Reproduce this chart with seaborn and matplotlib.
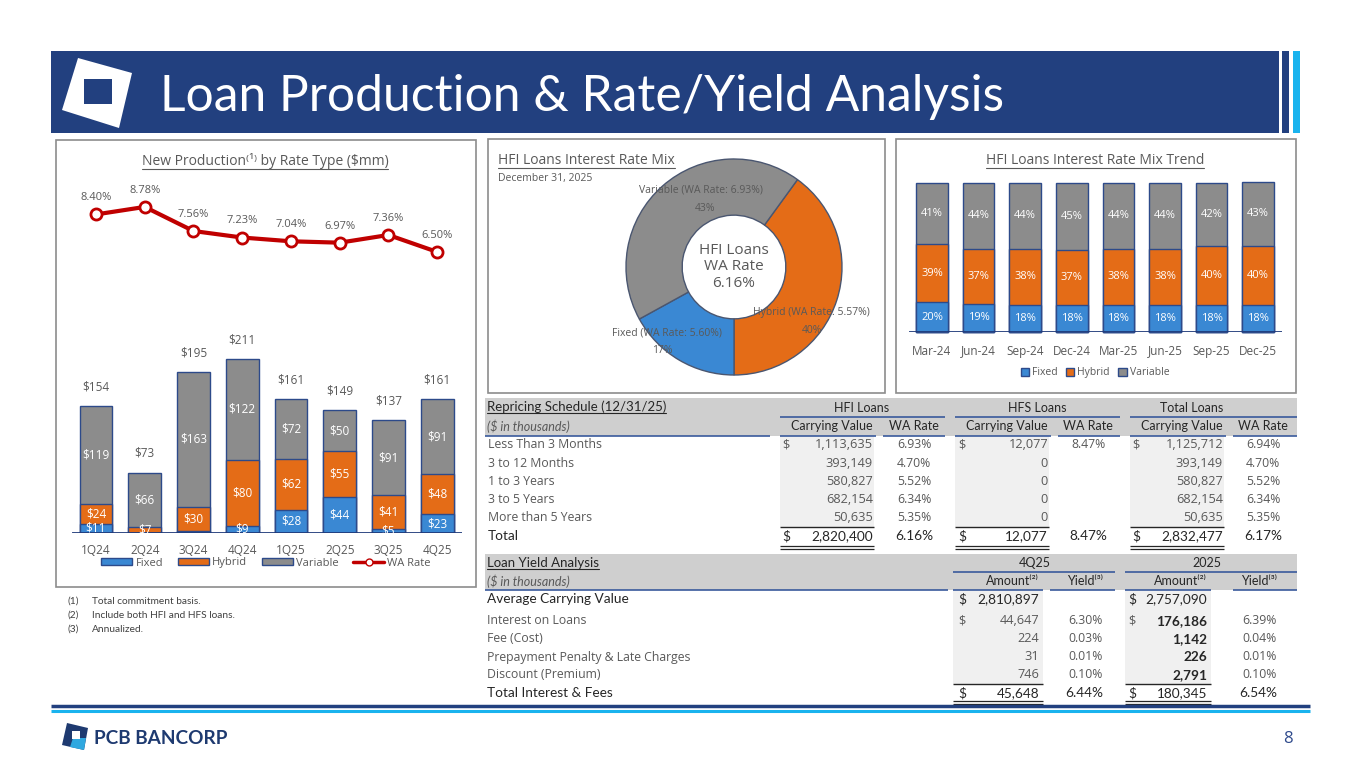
import matplotlib
matplotlib.use("Agg")
import matplotlib.pyplot as plt
import matplotlib.patches as mpatches
from matplotlib.lines import Line2D
import pandas as pd
import seaborn as sns

sns.set_theme(style="white")
plt.rcParams["font.family"] = ["Open Sans", "DejaVu Sans"]
plt.rcParams["text.parse_math"] = False

W, H = 1365, 768
NAVY = "#22407F"
SKY = "#1AB3EE"
BLUE = "#3A88D3"
ORANGE = "#E46C17"
GRAY = "#8C8C8C"
EDGE = "#2D4A8A"
RED = "#C00000"
TXT = "#595959"
DARK = "#262626"
HDR_BG = "#CFCFCF"
CELL_BG = "#F0F0F0"
LINE_BLUE = "#3A5A9C"
SEGOE = ["Open Sans", "DejaVu Sans"]
CALIBRI = ["Lato", "DejaVu Sans"]
BODY = 8.8
NUM = 9.2

# ---- data ----
quarters = ["1Q24", "2Q24", "3Q24", "4Q24", "1Q25", "2Q25", "3Q25", "4Q25"]
prod_fixed = [11, 0, 2, 9, 28, 44, 5, 23]
prod_hybrid = [24, 7, 30, 80, 62, 55, 41, 48]
prod_variable = [119, 66, 163, 122, 72, 50, 91, 91]
prod_total = [154, 73, 195, 211, 161, 149, 137, 161]
wa_rate = [8.40, 8.78, 7.56, 7.23, 7.04, 6.97, 7.36, 6.50]

mix_types = ["Hybrid", "Fixed", "Variable"]
mix_share = [40, 17, 43]
mix_rate = [5.57, 5.60, 6.93]
hfi_wa_rate = 6.16

trend_months = ["Mar-24", "Jun-24", "Sep-24", "Dec-24", "Mar-25", "Jun-25", "Sep-25", "Dec-25"]
trend_fixed = [20, 19, 18, 18, 18, 18, 18, 18]
trend_hybrid = [39, 37, 38, 37, 38, 38, 40, 40]
trend_variable = [41, 44, 44, 45, 44, 44, 42, 43]

rep_buckets = ["Less Than 3 Months", "3 to 12 Months", "1 to 3 Years", "3 to 5 Years", "More than 5 Years"]
hfi_value = [1113635, 393149, 580827, 682154, 50635]
hfi_rate = [6.93, 4.70, 5.52, 6.34, 5.35]
hfs_value = [12077, 0, 0, 0, 0]
hfs_rate = [8.47, None, None, None, None]
tot_value = [1125712, 393149, 580827, 682154, 50635]
tot_rate = [6.94, 4.70, 5.52, 6.34, 5.35]
rep_groups = ["HFI Loans", "HFS Loans", "Total Loans"]
rep_total_value = [2820400, 12077, 2832477]
rep_total_rate = [6.16, 8.47, 6.17]

yield_items = ["Interest on Loans", "Fee (Cost)", "Prepayment Penalty & Late Charges", "Discount (Premium)"]
yield_periods = ["4Q25", "2025"]
q4_amount = [44647, 224, 31, 746]
q4_yield = [6.30, 0.03, 0.01, 0.10]
fy_amount = [176186, 1142, 226, 2791]
fy_yield = [6.39, 0.04, 0.01, 0.10]
avg_carrying = [2810897, 2757090]
yield_total_amount = [45648, 180345]
yield_total_yield = [6.44, 6.54]

footnotes = ["Total commitment basis.", "Include both HFI and HFS loans.", "Annualized."]


def rect(x0, y0, x1, y1):
    return [x0 / W, 1 - y1 / H, (x1 - x0) / W, (y1 - y0) / H]


fig = plt.figure(figsize=(W / 100, H / 100), dpi=100)
fig.patch.set_facecolor("white")
cv = fig.add_axes([0, 0, 1, 1])
cv.set_xlim(0, W)
cv.set_ylim(H, 0)
cv.axis("off")
underlined = []


def box(x0, y0, x1, y1, fc="none", ec="none", lw=1.0, z=1):
    cv.add_patch(mpatches.Rectangle((x0, y0), x1 - x0, y1 - y0, facecolor=fc,
                                    edgecolor=ec, linewidth=lw, zorder=z))


def hline(x0, x1, y, color=DARK, lw=0.9):
    cv.plot([x0, x1], [y, y], color=color, lw=lw, solid_capstyle="butt", zorder=3)


def txt(x, y, s, size=8.5, color=TXT, ha="left", family=SEGOE, **kw):
    return cv.text(x, y, s, fontsize=size, color=color, ha=ha, va="center",
                   family=family, zorder=4, **kw)


# ---- header band ----
box(51, 51, 1279, 133, fc=NAVY)
box(1282, 51, 1289, 133, fc=NAVY)
box(1293, 51, 1300, 133, fc=SKY)
cv.add_patch(mpatches.Polygon([(78, 58), (132, 73), (119, 128), (62, 110)], closed=True,
                              facecolor="white", edgecolor="none", zorder=2))
box(84, 79, 112, 104, fc=NAVY, z=3)
title = txt(160, 97, "Loan Production & Rate/Yield Analysis", 36, "white", family=CALIBRI)

# ---- panels ----
box(56, 140, 476, 587, ec="#8C8C8C", lw=1.2)
box(488, 139, 885, 393, ec="#8C8C8C", lw=1.2)
box(896, 139, 1296, 393, ec="#8C8C8C", lw=1.2)

# ---- left chart: new production ----
underlined.append(txt(265, 161, "New Production⁽¹⁾ by Rate Type ($mm)", 10, TXT, ha="center"))
prod = pd.DataFrame({"quarter": quarters, "fixed": prod_fixed, "hybrid": prod_hybrid,
                     "variable": prod_variable})
prod["fh"] = prod["fixed"] + prod["hybrid"]
prod["fhv"] = prod["fh"] + prod["variable"]

axb = fig.add_axes(rect(71.6, 340, 461.6, 533))
for col, c in [("fhv", GRAY), ("fh", ORANGE), ("fixed", BLUE)]:
    sns.barplot(data=prod, x="quarter", y=col, order=quarters, color=c, saturation=1,
                width=0.67, edgecolor=EDGE, linewidth=1, errorbar=None, ax=axb)
for i, row in prod.iterrows():
    if row["fixed"] >= 3:
        axb.text(i, row["fixed"] / 2, f"${row['fixed']}", ha="center", va="center",
                 color="white", fontsize=8.5)
    axb.text(i, row["fixed"] + row["hybrid"] / 2, f"${row['hybrid']}", ha="center",
             va="center", color="white", fontsize=8.5)
    axb.text(i, row["fh"] + row["variable"] / 2, f"${row['variable']}", ha="center",
             va="center", color="white", fontsize=8.5)
    axb.annotate(f"${prod_total[i]}", (i, row["fhv"]), xytext=(0, 14), textcoords="offset points",
                 ha="center", va="center", color=TXT, fontsize=8.5)
axb.axhline(0, color="#1F3A7A", lw=2)
axb.set_xlim(-0.5, 7.5)
axb.set_ylim(0, 234)
axb.set_xlabel("")
axb.set_ylabel("")
axb.set_yticks([])
axb.tick_params(axis="x", length=0, pad=8, labelsize=8.5, labelcolor=TXT)
axb.patch.set_alpha(0)
sns.despine(ax=axb, left=True, bottom=True)

axl = fig.add_axes(rect(71.6, 185, 461.6, 265))
sns.lineplot(x=quarters, y=wa_rate, sort=False, color=RED, lw=3, marker="o", markersize=8,
             markerfacecolor="white", markeredgecolor=RED, markeredgewidth=2, ax=axl)
for i, v in enumerate(wa_rate):
    axl.annotate(f"{v:.2f}%", (i, v), xytext=(0, 12), textcoords="offset points",
                 ha="center", va="center", color=TXT, fontsize=8)
axl.set_xlim(-0.5, 7.5)
axl.set_ylim(5.84, 9.89)
axl.axis("off")

handles = [mpatches.Patch(facecolor=BLUE, edgecolor=EDGE), mpatches.Patch(facecolor=ORANGE, edgecolor=EDGE),
           mpatches.Patch(facecolor=GRAY, edgecolor=EDGE),
           Line2D([], [], color=RED, lw=2.5, marker="o", markerfacecolor="white",
                  markeredgecolor=RED, markersize=5)]
fig.legend(handles, ["Fixed", "Hybrid", "Variable", "WA Rate"], loc="center",
           bbox_to_anchor=(266 / W, 1 - 563 / H), ncol=4, frameon=False, fontsize=8,
           handlelength=2.8, handleheight=0.6, columnspacing=1.3, handletextpad=0.3,
           labelcolor=TXT)

for k, note in enumerate(footnotes):
    txt(67, 601 + 14 * k, f"({k + 1})", 7.3, "#404040", family=CALIBRI)
    txt(92, 601 + 14 * k, note, 7.3, "#404040", family=CALIBRI)

# ---- middle chart: donut ----
underlined.append(txt(498, 161, "HFI Loans Interest Rate Mix", 10, TXT))
txt(498, 178, "December 31, 2025", 7.5, TXT)
axd = fig.add_axes(rect(734 - 130, 267 - 130, 734 + 130, 267 + 130))
axd.pie(mix_share, colors=[ORANGE, BLUE, GRAY], startangle=54, counterclock=False,
        wedgeprops=dict(width=0.52, edgecolor="#4A5670", linewidth=1))
axd.set_xlim(-1.2037, 1.2037)
axd.set_ylim(-1.2037, 1.2037)
axd.set_aspect("equal")
axd.patch.set_alpha(0)
label_pos = {"Hybrid": [(0.72, -0.42), (0.72, -0.59)],
             "Fixed": [(-0.62, -0.61), (-0.66, -0.77)],
             "Variable": [(-0.31, 0.71), (-0.27, 0.54)]}
for name, share, rate in zip(mix_types, mix_share, mix_rate):
    (nx, ny), (px, py) = label_pos[name]
    axd.text(nx, ny, f"{name} (WA Rate: {rate:.2f}%)", ha="center", va="center", color=TXT, fontsize=7.5)
    axd.text(px, py, f"{share}%", ha="center", va="center", color=TXT, fontsize=7.5)
axd.text(0, 0, f"HFI Loans\nWA Rate\n{hfi_wa_rate:.2f}%", ha="center", va="center",
         color=TXT, fontsize=11, linespacing=1.15)

# ---- right chart: mix trend ----
underlined.append(txt(1095, 161, "HFI Loans Interest Rate Mix Trend", 10, TXT, ha="center"))
trend = pd.DataFrame({"month": trend_months, "fixed": trend_fixed, "hybrid": trend_hybrid,
                      "variable": trend_variable})
trend["fh"] = trend["fixed"] + trend["hybrid"]
trend["fhv"] = trend["fh"] + trend["variable"]
axt = fig.add_axes(rect(908.7, 183, 1281.5, 332))
for col, c in [("fhv", GRAY), ("fh", ORANGE), ("fixed", BLUE)]:
    sns.barplot(data=trend, x="month", y=col, order=trend_months, color=c, saturation=1,
                width=0.68, edgecolor=EDGE, linewidth=1, errorbar=None, ax=axt)
for i, row in trend.iterrows():
    for mid, val in [(row["fixed"] / 2, row["fixed"]),
                     (row["fixed"] + row["hybrid"] / 2, row["hybrid"]),
                     (row["fh"] + row["variable"] / 2, row["variable"])]:
        axt.text(i, mid, f"{val}%", ha="center", va="center", color="white", fontsize=8)
axt.axhline(0, color="#1F3A7A", lw=2)
axt.set_xlim(-0.5, 7.5)
axt.set_ylim(0, 100)
axt.set_xlabel("")
axt.set_ylabel("")
axt.set_yticks([])
axt.tick_params(axis="x", length=0, pad=9, labelsize=8.5, labelcolor=TXT)
axt.patch.set_alpha(0)
sns.despine(ax=axt, left=True, bottom=True)
for p in axt.patches:
    p.set_clip_on(False)
fig.legend([mpatches.Patch(facecolor=c, edgecolor=EDGE) for c in (BLUE, ORANGE, GRAY)],
           ["Fixed", "Hybrid", "Variable"], loc="center", bbox_to_anchor=(1095 / W, 1 - 373 / H),
           ncol=3, frameon=False, fontsize=7.5, handlelength=0.8, handleheight=0.8,
           columnspacing=0.8, handletextpad=0.3, labelcolor=TXT)

# ---- repricing schedule table ----
box(485, 398, 1297, 436, fc=HDR_BG)
underlined.append(txt(487, 407, "Repricing Schedule (12/31/25)", 9.5, DARK, family=CALIBRI))
txt(487, 426, "($ in thousands)", 9, TXT, family=CALIBRI, style="italic")
hline(485, 770, 436, LINE_BLUE, 1.2)
# cv_x0, cv_x1, rate_x0, rate_x1, dollar_x, rate_center, group_center, group_x1
rep_geom = [(780, 873, 883, 945, 782, 914, 862, 945),
            (955, 1048, 1058, 1120, 958, 1088, 1037, 1120),
            (1130, 1223, 1233, 1297, 1132, 1263, 1192, 1297)]
rep_cols = [(hfi_value, hfi_rate), (hfs_value, hfs_rate), (tot_value, tot_rate)]
row_y = [445 + 18.2 * i for i in range(len(rep_buckets))]
total_y = 536
for g, (values, rates), tv, tr, name in zip(rep_geom, rep_cols, rep_total_value, rep_total_rate, rep_groups):
    cx0, cx1, rx0, rx1, dx, rc, gc, gx1 = g
    box(cx0, 436, cx1 + 1, 527, fc=CELL_BG, z=0.5)
    txt(gc, 408, name, 9, DARK, ha="center", family=CALIBRI)
    hline(cx0, gx1, 417, LINE_BLUE, 1.2)
    txt(cx1, 426, "Carrying Value", 9, DARK, ha="right", family=CALIBRI)
    txt(rc, 426, "WA Rate", 9, DARK, ha="center", family=CALIBRI)
    hline(cx0, cx1 + 3, 436, LINE_BLUE, 1.2)
    hline(rx0, rx1, 436, LINE_BLUE, 1.2)
    for i, (v, r) in enumerate(zip(values, rates)):
        if i == 0:
            txt(dx, row_y[i], "$", NUM, TXT)
        txt(cx1, row_y[i], f"{v:,}", NUM, TXT, ha="right")
        if r is not None:
            txt(rc, row_y[i], f"{r:.2f}%", BODY, TXT, ha="center")
    hline(cx0, cx1 + 1, 527, DARK, 1.0)
    txt(dx, total_y, "$", 9.8, DARK, family=CALIBRI)
    txt(cx1, total_y, f"{tv:,}", 9.8, DARK, ha="right", family=CALIBRI)
    txt(rc, total_y, f"{tr:.2f}%", 9.8, DARK, ha="center", family=CALIBRI)
    hline(cx0, cx1 + 1, 545.5, DARK, 0.9)
    hline(cx0, cx1 + 1, 548.5, DARK, 0.9)
for y, label in zip(row_y, rep_buckets):
    txt(488, y, label, BODY, TXT)
txt(488, total_y, "Total", 9.8, DARK, family=CALIBRI)

# ---- loan yield table ----
box(485, 554, 1297, 590, fc=HDR_BG)
underlined.append(txt(487, 563, "Loan Yield Analysis", 9.5, DARK, family=CALIBRI))
txt(487, 581, "($ in thousands)", 9, TXT, family=CALIBRI, style="italic")
hline(485, 948, 590, LINE_BLUE, 1.2)
# amt_x0, amt_x1, yld_x0, yld_x1, dollar_x, yld_right, group_center
yld_geom = [(953, 1039, 1050, 1115, 958, 1103, 1035),
            (1125, 1207, 1233, 1297, 1128, 1277, 1207)]
yld_cols = [(q4_amount, q4_yield, TXT), (fy_amount, fy_yield, DARK)]
item_y = [621 + 18 * i for i in range(len(yield_items))]
for g, (amts, ylds, acol), per, avg, ta, ty in zip(yld_geom, yld_cols, yield_periods, avg_carrying,
                                                    yield_total_amount, yield_total_yield):
    ax0, ax1, yx0, yx1, dx, yr, gc = g
    box(ax0, 590, ax1 + 4, 684, fc=CELL_BG, z=0.5)
    txt(gc, 563, per, 9, DARK, ha="center", family=CALIBRI)
    hline(ax0, yx1, 572, LINE_BLUE, 1.2)
    txt(ax1, 581, "Amount⁽²⁾", 9, DARK, ha="right", family=CALIBRI)
    txt(yr, 581, "Yield⁽³⁾", 9, DARK, ha="right", family=CALIBRI)
    hline(ax0, ax1 + 4, 590, LINE_BLUE, 1.2)
    hline(yx0, yx1, 590, LINE_BLUE, 1.2)
    txt(dx, 599, "$", 9.8, DARK, family=CALIBRI)
    txt(ax1, 599, f"{avg:,}", 9.8, DARK, ha="right", family=CALIBRI)
    for i, (a, y) in enumerate(zip(amts, ylds)):
        if i == 0:
            txt(dx, item_y[i], "$", NUM, TXT)
        if acol == DARK:
            txt(ax1, item_y[i], f"{a:,}", 9.8, DARK, ha="right", family=CALIBRI, weight="bold")
        else:
            txt(ax1, item_y[i], f"{a:,}", NUM, TXT, ha="right")
        txt(yr, item_y[i], f"{y:.2f}%", BODY, TXT, ha="right")
    hline(ax0, ax1 + 4, 684, DARK, 1.0)
    txt(dx, 693, "$", 9.8, DARK, family=CALIBRI)
    txt(ax1, 693, f"{ta:,}", 9.8, DARK, ha="right", family=CALIBRI)
    txt(yr, 693, f"{ty:.2f}%", 9.8, DARK, ha="right", family=CALIBRI)
    hline(ax0, ax1 + 4, 700.5, DARK, 0.9)
    hline(ax0, ax1 + 4, 703.5, DARK, 0.9)
txt(487, 599, "Average Carrying Value", 9.8, DARK, family=CALIBRI)
for y, label in zip(item_y, yield_items):
    txt(487, y, label, BODY, TXT)
txt(487, 693, "Total Interest & Fees", 9.8, DARK, family=CALIBRI)

# ---- footer ----
hline(51, 1310, 706, NAVY, 2.5)
hline(51, 1310, 710.5, SKY, 2.2)
cv.add_patch(mpatches.Polygon([(67, 723), (88, 728), (84, 750), (62, 745)], closed=True,
                              facecolor="#1E3A70", edgecolor="none", zorder=2))
cv.add_patch(mpatches.Polygon([(73, 738), (86, 738), (84, 750), (70, 747)], closed=True,
                              facecolor="#2FA8E0", edgecolor="none", zorder=3))
box(72, 731, 80, 739, fc="white", z=4)
brand = txt(94, 738, "PCB BANCORP", 14, "#1E3A70", family=CALIBRI, weight="bold")
txt(1288, 739, "8", 12, "#2F4A8C", ha="center")

# ---- fit widths and underlines ----
fig.canvas.draw()
r = fig.canvas.get_renderer()
for t, target in [(title, 845), (brand, 135)]:
    w = t.get_window_extent(r).width
    t.set_fontsize(t.get_fontsize() * target / w)
fig.canvas.draw()
for t in underlined:
    bb = t.get_window_extent(r)
    y = H - bb.y0 - 0.5
    cv.plot([bb.x0, bb.x1], [y, y], color=t.get_color(), lw=0.8, zorder=4)

fig.savefig("out.png", dpi=100, facecolor="white")
